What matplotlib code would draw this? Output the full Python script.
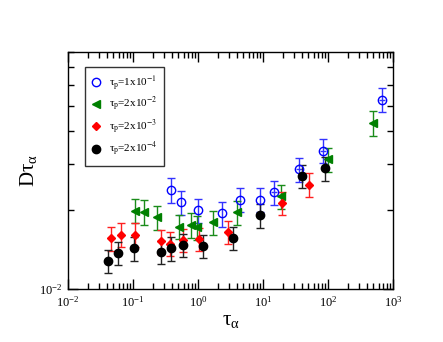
import numpy as np
import matplotlib
matplotlib.use("Agg")
from matplotlib import pyplot as plt
from matplotlib.ticker import LogLocator, NullFormatter, LogFormatterMathtext

plt.rcParams['font.family'] = 'serif'
plt.rcParams['font.serif'] = ['Liberation Serif', 'DejaVu Serif']
plt.rcParams['mathtext.fontset'] = 'stix'

# tau_p = 1x10^-1 (blue open circles)
tau_blue = [0.385, 0.547, 1.01, 2.32, 4.43, 9.0, 14.8, 35.8, 84.7, 670]
d_blue = [0.0238, 0.0214, 0.0200, 0.0194, 0.0219, 0.0219, 0.0234, 0.0286, 0.0337, 0.0527]
err_blue = [0.0026, 0.0023, 0.0021, 0.0021, 0.0023, 0.0023, 0.0025, 0.0030, 0.0036, 0.0056]
xerr_blue = [0.0, 0.0, 0.0, 0.0, 0.0, 0.0, 1.6, 4.0, 9.0, 70]

# tau_p = 2x10^-2 (green triangles)
tau_green = [0.107, 0.146, 0.238, 0.510, 0.768, 0.955, 1.70, 3.94, 18.6, 98.9, 498]
d_green = [0.0199, 0.0197, 0.0188, 0.0173, 0.0176, 0.0172, 0.0180, 0.0196, 0.0226, 0.0312, 0.0429]
err_green = [0.0021, 0.0021, 0.0020, 0.0018, 0.0019, 0.0018, 0.0019, 0.0021, 0.0024, 0.0033, 0.0046]

# tau_p = 2x10^-3 (red diamonds)
tau_red = [0.0459, 0.0647, 0.109, 0.265, 0.373, 0.587, 1.05, 2.93, 19.4, 51.4]
d_red = [0.0156, 0.0161, 0.0161, 0.0152, 0.0149, 0.0154, 0.0155, 0.0165, 0.0213, 0.0250]
err_red = [0.0016, 0.0017, 0.0017, 0.0016, 0.0016, 0.0016, 0.0016, 0.0017, 0.0022, 0.0026]

# tau_p = 2x10^-4 (black circles)
tau_black = [0.0406, 0.0594, 0.1035, 0.265, 0.385, 0.598, 1.19, 3.40, 9.0, 39.8, 89.9]
d_black = [0.0128, 0.0137, 0.0143, 0.0138, 0.0143, 0.0147, 0.0146, 0.0157, 0.0191, 0.0270, 0.0289]
err_black = [0.0013, 0.0014, 0.0015, 0.0014, 0.0015, 0.0015, 0.0015, 0.0016, 0.0020, 0.0028, 0.0030]

labels = [r'$\mathregular{\tau_p}$=1x10$^{-1}$', r'$\mathregular{\tau_p}$=2x10$^{-2}$',
          r'$\mathregular{\tau_p}$=2x10$^{-3}$', r'$\mathregular{\tau_p}$=2x10$^{-4}$']

fig = plt.figure(figsize=(4.43, 3.42), dpi=100)
ax = fig.add_axes([68/443, 53/342, 325/443, 237/342])

eb = dict(capsize=3, elinewidth=1, capthick=1, linestyle='none')

# horizontal bars on blue points have no caps
ax.errorbar(tau_blue, d_blue, xerr=xerr_blue, fmt='none', ecolor='#3333ff',
            elinewidth=1, capsize=0)
h_blue = ax.errorbar(tau_blue, d_blue, yerr=err_blue, marker='o', ms=6,
                     mfc='none', mec='#0000ff', mew=1, color='#0000ff', ecolor='#3333ff', **eb)
h_green = ax.errorbar(tau_green, d_green, yerr=err_green, marker='<', ms=6,
                      color='#008000', ecolor='#1a8c1a', **eb)
h_red = ax.errorbar(tau_red, d_red, yerr=err_red, marker='D', ms=4.5,
                    color='#ff0000', ecolor='#ff2020', **eb)
h_black = ax.errorbar(tau_black, d_black, yerr=err_black, marker='o', ms=6,
                      color='black', ecolor='#222222', **eb)

ax.set_xscale('log')
ax.set_yscale('log')
ax.set_xlim(1e-2, 1e3)
ax.set_ylim(1e-2, 0.08)

ax.xaxis.set_major_locator(LogLocator(base=10, numticks=10))
ax.xaxis.set_minor_locator(LogLocator(base=10, subs=np.arange(2, 10), numticks=20))
ax.xaxis.set_major_formatter(LogFormatterMathtext())
ax.xaxis.set_minor_formatter(NullFormatter())
ax.yaxis.set_major_locator(LogLocator(base=10, numticks=10))
ax.yaxis.set_minor_locator(LogLocator(base=10, subs=np.arange(2, 10), numticks=20))
ax.yaxis.set_major_formatter(LogFormatterMathtext())
ax.yaxis.set_minor_formatter(NullFormatter())

ax.tick_params(which='both', direction='in', top=True, right=True, labelsize=9, width=1)
ax.tick_params(which='major', length=7, pad=4)
ax.tick_params(which='minor', length=4)
for s in ax.spines.values():
    s.set_linewidth(1)

ax.set_xlabel(r'$\mathregular{\tau_\alpha}$', fontsize=15, labelpad=1)
ax.set_ylabel(r'D$\mathregular{\tau_\alpha}$', fontsize=15, labelpad=0)

handles = [h[0] for h in (h_blue, h_green, h_red, h_black)]
leg = ax.legend(handles, labels, loc='upper left',
                bbox_to_anchor=(0.052, 0.937), borderaxespad=0, fontsize=8,
                frameon=True, fancybox=False, edgecolor='black', handlelength=0.8,
                handletextpad=0.8, labelspacing=0.3, borderpad=0.6)
leg.get_frame().set_linewidth(1)

fig.savefig('out.png', dpi=100)
